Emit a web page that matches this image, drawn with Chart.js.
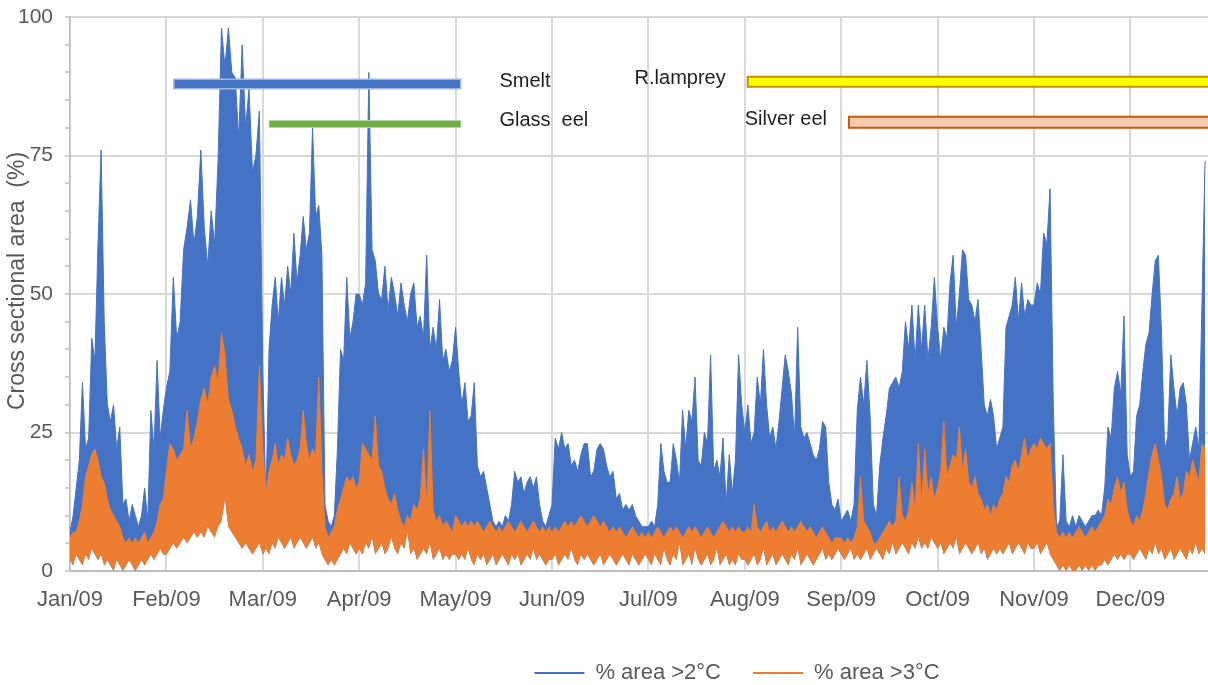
<!DOCTYPE html>
<html><head><meta charset="utf-8">
<script src="https://cdn.jsdelivr.net/npm/chart.js@4.4.1/dist/chart.umd.min.js"></script>
<style>html,body{margin:0;padding:0;background:#fff;overflow:hidden}#wrap{width:1208px;height:685px;position:relative}</style>
</head><body><div id="wrap"><canvas id="c" width="1208" height="685"></canvas></div>
<script>
// ---------- data ----------
const monthLabels = ['Jan/09','Feb/09','Mar/09','Apr/09','May/09','Jun/09','Jul/09','Aug/09','Sep/09','Oct/09','Nov/09','Dec/09'];
const daysInMonth = [31,28,31,30,31,30,31,31,30,31,30,31];
const yTickValues = [0,25,50,75,100];

// daily peak of "% area >2°C" (Jan 1 .. Dec 25)
const blueHigh = [
  7,10,15,20,34,22,24,42,38,59,76,45,30,27,30,22,26,12,13,9,12,10,8,10,15,9,29,22,38,24,29,
  33,36,53,42,45,58,62,67,59,64,76,62,55,65,59,74,98,91,98,90,89,78,95,80,87,72,75,83,
  36,12,40,48,53,45,53,48,55,50,61,52,57,64,58,61,80,64,66,57,12,9,8,10,22,40,38,53,42,45,50,
  50,48,52,90,58,56,50,49,55,47,53,50,46,52,48,45,50,52,44,46,42,57,40,44,40,49,38,40,36,38,
  44,36,30,34,27,28,34,19,17,18,15,12,9,8,9,8,10,9,12,18,16,17,14,16,17,15,17,12,9,8,10,
  12,24,22,25,22,23,19,20,18,21,23,23,17,18,22,23,22,19,17,18,13,14,11,12,11,12,10,9,8,8,
  8,9,8,12,23,18,16,16,23,20,16,29,22,29,27,35,20,19,25,23,39,18,20,17,24,12,21,14,20,39,30,
  25,30,23,25,35,30,40,30,24,26,22,27,33,39,36,32,24,44,26,24,25,23,21,20,22,27,26,16,12,11,13,
  9,10,11,9,12,29,35,30,38,28,12,10,19,24,28,33,34,35,33,36,45,40,48,38,48,40,48,38,44,53,
  44,38,44,42,52,57,44,50,58,57,49,48,45,49,40,30,28,31,28,22,24,26,44,46,48,53,45,52,46,49,48,
  48,52,50,61,59,69,30,8,9,21,9,8,10,8,10,9,8,9,10,10,11,10,15,26,24,33,36,32,46,21,
  17,18,28,30,36,41,43,50,56,57,43,22,24,39,33,28,33,34,30,20,23,26,22,48,74
];
// daily peak of "% area >3°C"
const orangeHigh = [
  6,7,7,9,12,17,19,21,22,20,17,16,13,11,10,9,8,6,5,6,5,6,5,6,7,5,6,7,9,12,13,
  18,23,22,20,21,22,29,22,24,27,31,33,30,35,37,34,43,39,31,29,26,24,22,19,21,18,20,37,
  22,14,18,20,23,19,21,20,24,21,19,20,22,29,23,20,22,21,35,18,8,6,7,8,11,13,15,17,16,17,15,
  16,23,22,21,20,28,19,18,15,13,12,14,11,9,8,10,9,12,11,13,22,12,29,11,9,10,8,9,8,7,
  10,9,8,9,8,9,8,9,8,7,8,9,8,7,8,7,8,9,8,7,8,9,8,7,8,9,8,7,8,7,8,
  7,8,7,8,9,8,9,8,9,10,9,8,9,10,9,8,9,8,7,8,7,8,7,6,7,8,7,6,7,6,
  7,6,7,8,7,6,7,8,7,8,7,6,7,8,7,8,7,6,7,8,7,6,7,8,9,8,7,8,7,8,7,
  7,8,7,12,8,7,8,9,7,8,7,8,9,8,7,8,7,8,9,8,7,8,7,6,7,8,7,6,5,6,6,
  6,5,6,5,6,8,17,9,8,7,5,5,6,7,8,9,8,9,17,10,9,11,16,11,23,12,22,14,17,13,
  15,18,27,17,19,21,20,26,18,22,16,15,17,14,13,11,12,10,12,11,13,14,17,16,19,20,18,21,24,20,22,
  23,22,24,23,22,23,12,7,6,7,6,7,6,7,8,7,6,7,8,7,8,9,10,13,12,15,17,14,16,11,
  9,8,10,9,11,14,18,21,23,20,17,12,11,13,14,17,13,14,18,17,20,18,16,23,22
];
// daily trough of "% area >3°C"
const orangeLow = [
  2,1,3,2,1,3,2,4,3,2,3,1,2,1,0,2,1,0,1,2,1,0,1,2,1,2,3,2,3,4,3,
  3,4,5,4,5,6,5,6,7,6,7,6,8,7,6,8,9,13,8,7,6,5,4,5,4,3,4,5,
  3,4,3,5,4,6,5,4,5,6,4,5,6,5,4,5,6,4,5,3,2,1,2,1,2,3,4,3,5,4,3,
  4,3,5,4,6,3,4,5,3,4,6,4,3,5,4,7,3,4,2,3,4,3,5,2,3,4,2,3,2,3,
  3,2,3,2,4,2,1,3,2,3,1,2,3,1,2,3,2,1,3,2,3,1,2,3,2,4,2,3,2,1,2,
  2,3,1,2,3,2,4,2,1,3,2,3,2,1,2,3,1,2,3,2,1,2,3,2,1,3,2,1,2,3,
  2,1,3,2,1,4,2,1,3,2,5,1,2,3,1,4,2,1,2,3,1,2,4,1,2,3,1,2,1,3,2,
  2,1,2,3,1,2,4,1,2,3,1,2,3,2,1,3,2,4,1,2,3,2,1,2,3,4,2,3,2,3,4,
  3,2,3,4,2,3,2,3,4,2,3,4,3,2,4,3,5,3,4,5,4,3,5,4,6,4,5,4,6,5,
  4,5,3,4,5,4,6,3,4,5,4,3,4,5,3,4,2,3,4,3,4,3,4,5,3,4,5,4,3,5,4,
  4,5,3,4,5,3,2,1,0,1,0,1,0,0,1,0,1,0,1,0,1,1,2,1,2,3,2,3,2,3,
  3,2,3,4,3,2,4,3,5,3,4,2,3,4,2,3,4,3,2,4,3,5,3,4,3
];
// migration periods (month units: 0 = 1 Jan) and their level on the % axis
const speciesNames = ['Smelt','Glass  eel','R.lamprey','Silver eel'];
const speciesStart = [1.07, 2.06, 7.02, 8.07];
const speciesEnd   = [4.06, 4.06, 12.5, 12.5];
const speciesLevel = [87.9, 80.7, 88.3, 81.0];
const yTitle = 'Cross sectional area  (%)';

// ---------- helpers / styles ----------
const FONT = "'Liberation Sans', Arial, sans-serif";
const GREY_TXT = '#595959';
function dayToX(i){ let m=0; while(m<11 && i>=daysInMonth[m]){ i-=daysInMonth[m]; m++; } return m + i/daysInMonth[m]; }
const toPts = arr => arr.map((v,i)=>({x: dayToX(i), y: v}));
const PX_PER_MONTH = 96.4;
const speciesStyle = [
  {outer:'#9FB6E2', outerW:11, inner:'#4472C4', innerW:8, side:'right'},
  {outer:'#B9D8A5', outerW:8, inner:'#70AD47', innerW:6, side:'right'},
  {outer:'#BF9000', outerW:12, inner:'#FFFF00', innerW:8, side:'left'},
  {outer:'#C55A11', outerW:13, inner:'#F8CBAD', innerW:9, side:'left'}
];

const datasets = [
  {label:'% area >3°C', data: toPts(orangeHigh), borderColor:'#ED7D31', backgroundColor:'#ED7D31',
   borderWidth:1, pointRadius:0, fill:1, tension:0, order:0},
  {label:'_low3', data: toPts(orangeLow), borderColor:'rgba(0,0,0,0)', backgroundColor:'rgba(0,0,0,0)',
   borderWidth:1, pointRadius:0, fill:false, order:0},
  {label:'% area >2°C', data: toPts(blueHigh), borderColor:'#4472C4', backgroundColor:'#4472C4',
   borderWidth:1, pointRadius:0, fill:1, tension:0, order:0}
];
speciesNames.forEach((n,i)=>{
  const st = speciesStyle[i];
  const inset = (st.outerW - st.innerW)/2/PX_PER_MONTH;
  datasets.push({label:'_o'+n, data:[{x:speciesStart[i],y:speciesLevel[i]},{x:speciesEnd[i],y:speciesLevel[i]}],
    borderColor:st.outer, borderWidth:st.outerW, pointRadius:0, fill:false, order:-1, borderCapStyle:'butt'});
  datasets.push({label:'_i'+n, data:[{x:speciesStart[i]+inset,y:speciesLevel[i]},{x:speciesEnd[i]-inset,y:speciesLevel[i]}],
    borderColor:st.inner, borderWidth:st.innerW, pointRadius:0, fill:false, order:-2, borderCapStyle:'butt'});
});

const speciesLabels = {
  id:'speciesLabels',
  afterDatasetsDraw(chart){
    const {ctx, scales:{x,y}} = chart;
    ctx.save();
    ctx.font = '20px ' + FONT;
    ctx.fillStyle = '#1f1f1f';
    ctx.textBaseline = 'middle';
    speciesNames.forEach((n,i)=>{
      const yy = y.getPixelForValue(speciesLevel[i]) - 3;
      if (speciesStyle[i].side === 'right'){ ctx.textAlign='left'; ctx.fillText(n, x.getPixelForValue(speciesEnd[i]) + 38, yy); }
      else { ctx.textAlign='right'; ctx.fillText(n, x.getPixelForValue(speciesStart[i]) - 21, yy); }
    });
    // y-axis title
    ctx.translate(18, 281);
    ctx.rotate(-Math.PI/2);
    ctx.font = '23px ' + FONT;
    ctx.fillStyle = GREY_TXT;
    ctx.textAlign = 'center';
    ctx.fillText(yTitle, 0, 0);
    ctx.restore();
  }
};
const legendShift = {
  id:'legendShift',
  afterLayout(chart){ const l = chart.legend; if(!l) return; l.left += 133; l.right += 133; l.top += 9; l.bottom += 9; }
};

Chart.defaults.font.family = FONT;
new Chart(document.getElementById('c'), {
  type:'line',
  data:{datasets},
  plugins:[speciesLabels, legendShift],
  options:{
    responsive:false, animation:false, parsing:true,
    layout:{padding:{top:17, right:0, bottom:0, left:0}},
    plugins:{
      tooltip:{enabled:false},
      legend:{position:'bottom', align:'center',
        labels:{
          usePointStyle:true, pointStyle:'line', pointStyleWidth:50, boxHeight:22,
          padding:32, color:GREY_TXT, font:{size:22, family:FONT},
          generateLabels(chart){
            const items = Chart.defaults.plugins.legend.labels.generateLabels(chart)
              .filter(it => it.text.startsWith('%'))
              .map(it => Object.assign(it, {lineWidth:2, pointStyle:'line'}));
            items.sort((a,b)=> b.datasetIndex - a.datasetIndex);
            return items;
          }
        }
      }
    },
    scales:{
      x:{type:'linear', min:0, max:(1208-70)/PX_PER_MONTH,
        afterBuildTicks(s){ s.ticks = monthLabels.map((_,i)=>({value:i})); },
        afterFit(s){ s.height = 50; s.paddingLeft = 0; s.paddingRight = 0; },
        ticks:{autoSkip:false, maxRotation:0, padding:16, color:GREY_TXT, font:{size:22},
          callback:(v)=> monthLabels[Math.round(v)] ?? ''},
        grid:{color:'#D9D9D9', lineWidth:2, drawTicks:false},
        border:{color:'#BFBFBF', width:2}
      },
      y:{type:'linear', min:0, max:100,
        afterBuildTicks(s){ const t=[]; for(let v=0; v<=100; v+=5) t.push({value:v}); s.ticks=t; },
        afterFit(s){ s.width = 70; s.paddingTop = 0; s.paddingBottom = 0; },
        ticks:{autoSkip:false, padding:12, color:GREY_TXT, font:{size:21},
          callback:(v)=> yTickValues.includes(v) ? String(v) : ''},
        grid:{color:(c)=> (c.tick && c.tick.value % 25 === 0) ? '#D9D9D9' : 'rgba(0,0,0,0)',
          lineWidth:2, drawTicks:true, tickLength:5, tickColor:'#BFBFBF', tickWidth:1.5},
        border:{color:'#BFBFBF', width:1.5},
        title:{display:false}
      }
    }
  }
});
</script></body></html>
